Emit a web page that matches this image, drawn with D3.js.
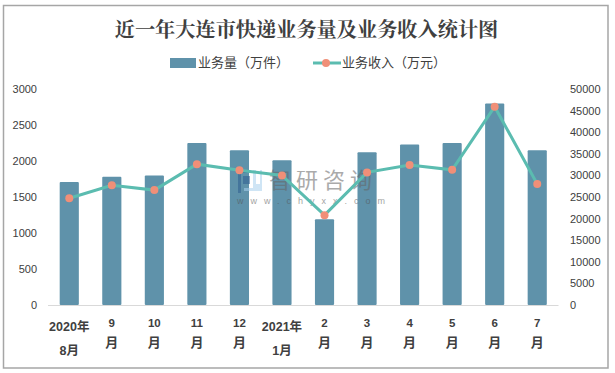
<!DOCTYPE html>
<html><head><meta charset="utf-8">
<script src="https://cdnjs.cloudflare.com/ajax/libs/d3/7.8.5/d3.min.js"></script>
<style>html,body{margin:0;padding:0;background:#fff}svg{display:block}</style>
</head><body><svg id="c" width="615" height="373"></svg>
<script>
const titleText="近一年大连市快递业务量及业务收入统计图";
const barName="业务量（万件）";
const lineName="业务收入（万元）";
const categories=["2020年|8月","9|月","10|月","11|月","12|月","2021年|1月","2|月","3|月","4|月","5|月","6|月","7|月"];
const volume=[1710,1780,1800,2250,2150,2010,1190,2120,2230,2250,2800,2150];
const revenue=[24700,27700,26600,32600,31200,30000,20800,30700,32400,31300,45900,28000];
const leftTicks=[0,500,1000,1500,2000,2500,3000];
const rightTicks=[0,5000,10000,15000,20000,25000,30000,35000,40000,45000,50000];
const m={l:48,r:558.5,t:89,b:305};
const svg=d3.select("#c");
const sans="'Liberation Sans','Noto Sans CJK SC',sans-serif";
svg.append("rect").attr("x",3.5).attr("y",5.5).attr("width",604.5).attr("height",362.5).attr("fill","#fff").attr("stroke","#a6a6a6").attr("stroke-width",1.5);
const x=d3.scaleBand().domain(d3.range(categories.length)).range([m.l,m.r]).paddingInner(0.55).paddingOuter(0.275);
const y=d3.scaleLinear().domain([0,3000]).range([m.b,m.t]);
const y2=d3.scaleLinear().domain([0,50000]).range([m.b,m.t]);
svg.append("text").attr("x",306.5).attr("y",37).attr("text-anchor","middle").attr("font-family","'Noto Serif CJK SC','Noto Sans CJK SC',serif").attr("font-weight","bold").attr("font-size",20.2).attr("fill","#404040").text(titleText);
// legend
svg.append("rect").attr("x",170).attr("y",58).attr("width",26).attr("height",10).attr("fill","#5f92aa");
svg.append("text").attr("x",198).attr("y",67).attr("font-family",sans).attr("font-size",13).attr("fill","#404040").text(barName);
svg.append("line").attr("x1",313).attr("x2",341).attr("y1",63).attr("y2",63).attr("stroke","#5bbcb0").attr("stroke-width",3);
svg.append("circle").attr("cx",326).attr("cy",63).attr("r",4).attr("fill","#f08f78");
svg.append("text").attr("x",342).attr("y",67).attr("font-family",sans).attr("font-size",13).attr("fill","#404040").text(lineName);
// axes
const ax=svg.append("g").attr("transform",`translate(${m.l},0)`).call(d3.axisLeft(y).tickValues(leftTicks).tickSize(0).tickFormat(d3.format("d")));
const ax2=svg.append("g").attr("transform",`translate(${m.r},0)`).call(d3.axisRight(y2).tickValues(rightTicks).tickSize(0).tickFormat(d3.format("d")));
[ax,ax2].forEach(a=>{a.select(".domain").remove();a.selectAll("text").attr("font-family",sans).attr("font-size",11).attr("fill","#404040");});
ax.selectAll("text").attr("x",-11);ax2.selectAll("text").attr("x",11.5);
// bars
svg.append("g").selectAll("rect").data(volume).join("rect").attr("x",(d,i)=>x(i)).attr("width",x.bandwidth()).attr("y",d=>y(d)).attr("height",d=>m.b-y(d)).attr("rx",1).attr("fill","#5f92aa");
svg.append("line").attr("x1",m.l).attr("x2",m.r).attr("y1",m.b+.5).attr("y2",m.b+.5).attr("stroke","#d9d9d9");
// watermark
const wm=svg.append("g").attr("opacity",.55);
wm.append("path").attr("d","M238 170h12v3h-9v20h-3z M243 176h7v8h-7z").attr("fill","#2f5f8f");
wm.append("path").attr("d","M253 170h3v14h4v-14h2v18h-9z M244 188h18v3h-18z").attr("fill","#a8d0ee");
wm.append("text").attr("x",269).attr("y",188).attr("font-family","'Noto Sans CJK SC'").attr("font-size",22).attr("letter-spacing",5).attr("fill","#666").text("智研咨询");
wm.append("text").attr("x",237).attr("y",204).attr("font-family",sans).attr("font-size",9).attr("letter-spacing",7).attr("fill","#555").text("www.chyxx.com");
// line
const cx=i=>x(i)+x.bandwidth()/2;
const line=d3.line().x((d,i)=>cx(i)).y(d=>y2(d));
svg.append("path").datum(revenue).attr("d",line).attr("fill","none").attr("stroke","#5bbcb0").attr("stroke-width",3);
svg.append("g").selectAll("circle").data(revenue).join("circle").attr("cx",(d,i)=>cx(i)).attr("cy",d=>y2(d)).attr("r",4).attr("fill","#f08f78");
// category labels
const xl=svg.append("g");
categories.forEach((c,i)=>{
 const [a,b]=c.split("|");const two=a.includes("年");
 xl.append("text").attr("x",cx(i)).attr("y",two?331:327).attr("text-anchor","middle").attr("font-family",sans).attr("font-weight","bold").attr("font-size",two?12.5:11.5).attr("fill","#404040").text(a);
 xl.append("text").attr("x",cx(i)).attr("y",two?355:347).attr("text-anchor","middle").attr("font-family",sans).attr("font-weight","bold").attr("font-size",two?12.5:13).attr("fill","#404040").text(b);
});
</script></body></html>
